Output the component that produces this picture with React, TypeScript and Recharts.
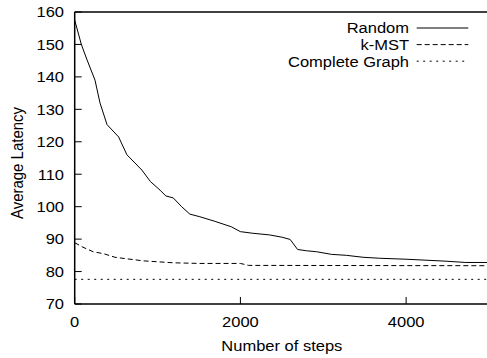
import React from 'react';
import { LineChart, Line, XAxis, YAxis } from 'recharts';

const seriesNames = ['Random', 'k-MST', 'Complete Graph'];

const randomSteps = [0, 80, 145, 245, 305, 390, 530, 630, 810, 915, 1030, 1100, 1190, 1290, 1390, 1510, 1690, 1890, 2000, 2150, 2350, 2500, 2600, 2690, 2800, 2920, 3100, 3280, 3480, 3680, 4000, 4240, 4480, 4720, 5000];
const randomLatency = [157.5, 150, 145.5, 139, 132, 125.3, 121.5, 116, 111.3, 107.7, 105.1, 103.3, 102.7, 100, 97.7, 96.9, 95.5, 93.8, 92.3, 91.8, 91.3, 90.6, 89.9, 86.8, 86.4, 86.1, 85.3, 85.0, 84.4, 84.1, 83.8, 83.5, 83.2, 82.8, 82.8];

const kmstSteps = [0, 100, 224, 350, 486, 827, 1190, 1510, 2000, 2100, 5000];
const kmstLatency = [88.9, 87.5, 86.1, 85.5, 84.4, 83.3, 82.7, 82.5, 82.5, 81.9, 81.8];

const completeSteps = [0, 5000];
const completeLatency = [77.6, 77.6];

const xTicks = [0, 2000, 4000];
const yTicks = [70, 80, 90, 100, 110, 120, 130, 140, 150, 160];
const xLabel = 'Number of steps';
const yLabel = 'Average Latency';

const zip = (xs: number[], ys: number[]) => xs.map((x, i) => ({ steps: x, latency: ys[i] }));
const randomData = zip(randomSteps, randomLatency);
const kmstData = zip(kmstSteps, kmstLatency);
const completeData = zip(completeSteps, completeLatency);

const FONT = '"Liberation Sans", Arial, Helvetica, sans-serif';
const FS = 15;
const SX = 1.1;
const stretch = (x: number, y: number) => `translate(${x} ${y}) scale(${SX} 1) translate(${-x} ${-y})`;

const XTick = (props: any) => {
  const { x, y, payload } = props;
  return (
    <text x={x} y={y} dy="0.71em" textAnchor="middle" fontFamily={FONT} fontSize={FS} fill="#000" transform={stretch(x, y)}>
      {payload.value}
    </text>
  );
};

const YTick = (props: any) => {
  const { x, y, payload } = props;
  return (
    <text x={x} y={y} dy="0.355em" textAnchor="end" fontFamily={FONT} fontSize={FS} fill="#000" transform={stretch(x, y)}>
      {payload.value}
    </text>
  );
};

const XLabel = (props: any) => {
  const vb = props.viewBox || {};
  const cx = vb.x + vb.width / 2;
  const cy = vb.y + 46.7;
  return (
    <text x={cx} y={cy} textAnchor="middle" fontFamily={FONT} fontSize={FS} fill="#000" transform={stretch(cx, cy)}>
      {xLabel}
    </text>
  );
};

const YLabel = (props: any) => {
  const vb = props.viewBox || {};
  const cx = vb.x + 17.5;
  const cy = vb.y + vb.height / 2 + 5;
  return (
    <text x={0} y={0} dy="0.355em" textAnchor="middle" fontFamily={FONT} fontSize={FS} fill="#000"
      transform={`translate(${cx} ${cy}) scale(${SX} 1) rotate(-90)`}>
      {yLabel}
    </text>
  );
};

const dashes = ['', '5 3', '2 4.5'];

const LegendBlock = () => (
  <g>
    {seriesNames.map((name, i) => {
      const by = 33.5 + i * 16.6;
      const tx = 409;
      return (
        <g key={name}>
          <text x={tx} y={by} textAnchor="end" fontFamily={FONT} fontSize={FS} fill="#000" transform={stretch(tx, by)}>
            {name}
          </text>
          <line x1={416.7} x2={468.3} y1={by - 5.5} y2={by - 5.5} stroke="#000" strokeWidth={1} strokeDasharray={dashes[i] || undefined} />
        </g>
      );
    })}
  </g>
);

const axisLine = { stroke: '#000', strokeWidth: 1.5 };
const tickLine = { stroke: '#000', strokeWidth: 1 };

export default function App() {
  return (
    <div style={{ position: 'fixed', left: 0, top: 0, width: 487, height: 358, overflow: 'hidden', background: '#fff' }}>
      <LineChart width={500} height={358} margin={{ top: 11, right: 0, bottom: 0, left: 0 }}>
        <XAxis xAxisId="bottom" type="number" dataKey="steps" domain={[0, 5000]} allowDataOverflow ticks={xTicks} interval={0}
          height={54} axisLine={axisLine} tickLine={tickLine} tickSize={-7} tickMargin={19} tick={<XTick />}
          label={<XLabel />} />
        <XAxis xAxisId="top" orientation="top" type="number" dataKey="steps" domain={[0, 5000]} allowDataOverflow ticks={xTicks} interval={0}
          height={1} axisLine={axisLine} tickLine={tickLine} tickSize={-7} tick={false} />
        <YAxis yAxisId="left" type="number" domain={[70, 160]} allowDataOverflow ticks={yTicks} interval={0}
          width={74.7} axisLine={axisLine} tickLine={tickLine} tickSize={-7} tickMargin={17.7} tick={<YTick />}
          label={<YLabel />} />
        <YAxis yAxisId="right" orientation="right" type="number" domain={[70, 160]} allowDataOverflow ticks={yTicks} interval={0}
          width={11} axisLine={axisLine} tickLine={tickLine} tickSize={-7} tick={false} />
        <Line xAxisId="bottom" yAxisId="left" data={randomData} dataKey="latency" name={seriesNames[0]} type="linear"
          stroke="#000" strokeWidth={1} dot={false} activeDot={false} isAnimationActive={false} />
        <Line xAxisId="bottom" yAxisId="left" data={kmstData} dataKey="latency" name={seriesNames[1]} type="linear"
          stroke="#000" strokeWidth={1} strokeDasharray="5 3" dot={false} activeDot={false} isAnimationActive={false} />
        <Line xAxisId="bottom" yAxisId="left" data={completeData} dataKey="latency" name={seriesNames[2]} type="linear"
          stroke="#000" strokeWidth={1} strokeDasharray="2 4.5" dot={false} activeDot={false} isAnimationActive={false} />
        <LegendBlock />
      </LineChart>
    </div>
  );
}
